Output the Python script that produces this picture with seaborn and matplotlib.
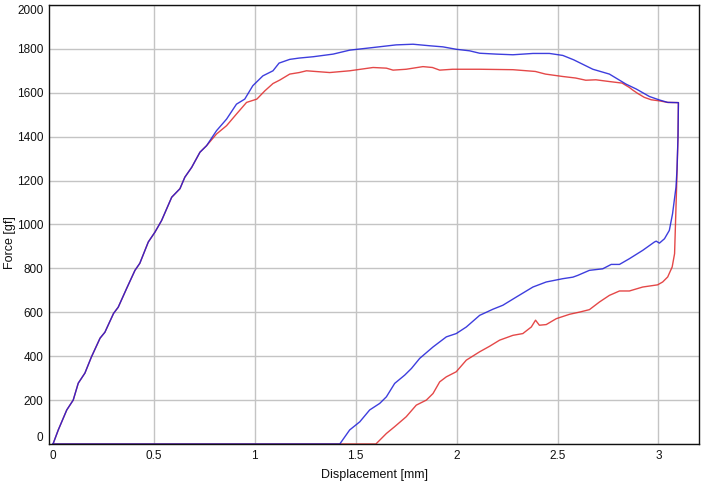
import matplotlib

matplotlib.use("Agg")
import matplotlib.pyplot as plt
import pandas as pd
import seaborn as sns

# Loading ramp shared by both runs (mm, gf)
load_x = [0, 0.026, 0.068, 0.10, 0.125, 0.158, 0.19, 0.233, 0.257, 0.30, 0.323,
          0.365, 0.406, 0.43, 0.472, 0.505, 0.538, 0.588, 0.629, 0.653, 0.687,
          0.728, 0.761]
load_y = [0, 64, 155, 200, 277, 323, 396, 482, 509, 595, 623, 709, 791, 823,
          920, 965, 1018, 1124, 1163, 1215, 1260, 1329, 1359]

# Blue run: plateau then unloading
blue_top_x = [0.81, 0.86, 0.909, 0.95, 0.99, 1.04, 1.09, 1.12, 1.173, 1.22,
              1.289, 1.388, 1.47, 1.586, 1.70, 1.784, 1.866, 1.932, 1.998,
              2.064, 2.114, 2.196, 2.279, 2.378, 2.46, 2.526, 2.58, 2.675,
              2.757, 2.84, 2.89, 2.955, 3.005, 3.046, 3.099]
blue_top_y = [1427, 1480, 1548, 1571, 1632, 1677, 1700, 1735, 1752, 1758,
              1764, 1776, 1794, 1806, 1818, 1821, 1814, 1809, 1798,
              1791, 1780, 1776, 1773, 1779, 1779, 1770, 1750, 1707,
              1685, 1639, 1617, 1583, 1567, 1556, 1555]
blue_unload_x = [3.097, 3.092, 3.087, 3.07, 3.054, 3.03, 3.005, 2.989, 2.98,
                 2.922, 2.856, 2.807, 2.766, 2.724, 2.658, 2.60, 2.576, 2.526,
                 2.444, 2.378, 2.295, 2.229, 2.18, 2.114, 2.048, 1.998, 1.949,
                 1.883, 1.817, 1.776, 1.743, 1.693, 1.652, 1.619, 1.569, 1.52,
                 1.47, 1.421, 0]
blue_unload_y = [1400, 1250, 1170, 1049, 973, 935, 915, 924, 920,
                 882, 844, 818, 818, 798, 791, 768, 760, 753,
                 738, 715, 669, 632, 614, 586, 533, 503, 488,
                 442, 390, 344, 314, 276, 215, 185, 155, 101,
                 64, 0, 0]

# Red run: plateau then unloading
red_top_x = [0.81, 0.86, 0.909, 0.959, 1.01, 1.05, 1.09, 1.124, 1.173, 1.22,
             1.256, 1.371, 1.47, 1.586, 1.652, 1.685, 1.75, 1.833, 1.88,
             1.916, 1.98, 2.114, 2.279, 2.39, 2.44, 2.526, 2.59, 2.64, 2.69,
             2.757, 2.82, 2.856, 2.873, 2.897, 2.93, 2.964, 3.005, 3.046, 3.099]
red_top_y = [1412, 1450, 1503, 1556, 1571, 1609, 1642, 1658, 1685, 1692,
             1700, 1692, 1700, 1715, 1712, 1703, 1707, 1719, 1715,
             1703, 1707, 1707, 1705, 1697, 1685, 1674, 1667, 1657, 1659,
             1651, 1644, 1624, 1612, 1597, 1579, 1568, 1563, 1556, 1555]
red_unload_x = [3.097, 3.09, 3.08, 3.068, 3.06, 3.046, 3.021, 2.996, 2.922,
                2.856, 2.807, 2.757, 2.708, 2.658, 2.61, 2.56, 2.494, 2.444,
                2.41, 2.391, 2.37, 2.328, 2.279, 2.213, 2.163, 2.114, 2.048,
                1.998, 1.949, 1.916, 1.883, 1.85, 1.80, 1.75, 1.693, 1.652,
                1.60, 0]
red_unload_y = [1400, 1170, 867, 806, 790, 761, 738, 725, 715,
                697, 697, 677, 647, 612, 601, 591, 571, 544,
                541, 564, 533, 503, 495, 473, 445, 420, 382,
                329, 306, 283, 230, 200, 177, 124, 79, 48,
                0, 0]

x_ticks = [0, 0.5, 1, 1.5, 2, 2.5, 3]
x_labels = ["0", "0.5", "1", "1.5", "2", "2.5", "3"]
y_ticks = [0, 200, 400, 600, 800, 1000, 1200, 1400, 1600, 1800, 2000]


def run_frame(name, top_x, top_y, un_x, un_y):
    xs = load_x + top_x + un_x
    ys = load_y + top_y + un_y
    return pd.DataFrame({"disp": xs, "force": ys, "run": name,
                         "order": range(len(xs))})


df = pd.concat([run_frame("red", red_top_x, red_top_y, red_unload_x, red_unload_y),
                run_frame("blue", blue_top_x, blue_top_y, blue_unload_x, blue_unload_y)],
               ignore_index=True)

sns.set_style("white")
plt.rcParams["font.family"] = ["Liberation Sans", "DejaVu Sans"]

fig = plt.figure(figsize=(7.08, 4.93), dpi=100)
ax = fig.add_axes([0.0692, 0.0994, 0.9178, 0.8906])

sns.lineplot(data=df, x="disp", y="force", hue="run", sort=False, estimator=None,
             palette={"red": "#e02828", "blue": "#1c1cd8"}, linewidth=1.0,
             alpha=0.85, legend=False, ax=ax)

ax.set_xlim(-0.02, 3.2)
ax.set_ylim(0, 2000)
ax.set_xticks(x_ticks)
ax.set_xticklabels(x_labels)
ax.set_yticks(y_ticks)
ax.set_yticklabels([str(v) for v in y_ticks])
ax.tick_params(length=0, labelsize=8.5, colors="#111111", pad=4)
ylabels = ax.get_yticklabels()
ylabels[0].set_va("bottom")
ylabels[-1].set_va("top")

ax.grid(True, color="#c4c4c4", linewidth=1.0)
ax.xaxis.get_gridlines()[0].set_visible(False)
ax.set_axisbelow(True)
for sp in ax.spines.values():
    sp.set_color("#111111")
    sp.set_linewidth(1.0)

ax.set_xlabel("Displacement [mm]", fontsize=9, color="#111111", va="center")
ax.set_ylabel("Force [gf]", fontsize=9, color="#111111", va="center")
ax.xaxis.set_label_coords(0.5015, -0.0706)
ax.yaxis.set_label_coords(-0.06, 0.458)

fig.savefig("out.png", dpi=100)
